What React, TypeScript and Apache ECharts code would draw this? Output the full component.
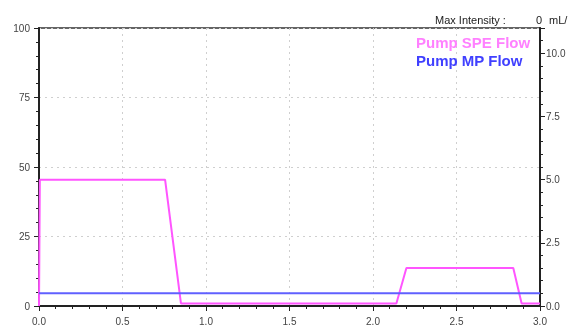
import React, { useEffect, useRef } from "react";
import * as echarts from "echarts";

const xTicks = ["0.0", "0.5", "1.0", "1.5", "2.0", "2.5", "3.0"];
const leftTicks = [0, 25, 50, 75, 100];
const rightTicks = ["0.0", "2.5", "5.0", "7.5", "10.0"];
const speTimes = [0, 0.005, 0.755, 0.85, 2.14, 2.2, 2.84, 2.89, 3.0];
const speFlow = [0, 5.0, 5.0, 0.1, 0.1, 1.5, 1.5, 0.1, 0.1];
const mpTimes = [0, 3.0];
const mpFlow = [0.5, 0.5];
const seriesNames = ["Pump SPE Flow", "Pump MP Flow"];

export default function App() {
  const ref = useRef<HTMLDivElement>(null);
  useEffect(() => {
    if (!ref.current) return;
    const chart = echarts.init(ref.current, undefined, { renderer: "svg" });
    const font = "Liberation Sans, Arial, sans-serif";
    const axisLine = { show: true, lineStyle: { color: "#222", width: 2 } };
    const split = { show: true, lineStyle: { color: "#cfcfcf", type: [2, 4] as any, width: 1 } };
    chart.setOption({
      animation: false,
      textStyle: { fontFamily: font },
      grid: { left: 39, right: 30, top: 28, bottom: 17, show: true, borderColor: "#333", borderWidth: 1.5, backgroundColor: "transparent" },
      graphic: [
        { type: "text", left: 435, top: 14, style: { text: "Max Intensity :", fontSize: 11, fill: "#222", fontFamily: font } },
        { type: "text", left: 536, top: 14, style: { text: "0", fontSize: 11, fill: "#222", fontFamily: font } },
        { type: "text", left: 549, top: 14, style: { text: "mL/", fontSize: 11, fill: "#222", fontFamily: font } },
      ],
      legend: {
        orient: "vertical",
        left: 406,
        top: 30,
        itemGap: 3,
        itemWidth: 0,
        itemHeight: 0,
        icon: "none",
        selectedMode: false,
        data: [
          { name: seriesNames[0], textStyle: { color: "#ff80ff" } },
          { name: seriesNames[1], textStyle: { color: "#4040ff" } },
        ],
        textStyle: { fontSize: 15, fontWeight: "bold", fontFamily: font },
      },
      xAxis: {
        type: "value",
        min: 0,
        max: 3,
        interval: 0.5,
        axisLine,
        axisTick: { show: true, length: 5, lineStyle: { color: "#222" } },
        minorTick: { show: true, splitNumber: 5, length: 3, lineStyle: { color: "#222" } },
        axisLabel: { color: "#444", fontSize: 10, margin: 10, formatter: (v: number) => xTicks[Math.round(v / 0.5)] ?? "" },
        splitLine: split,
      },
      yAxis: [
        {
          type: "value",
          min: 0,
          max: 100,
          interval: 25,
          position: "left",
          axisLine,
          axisTick: { show: true, length: 5, lineStyle: { color: "#222" } },
          minorTick: { show: true, splitNumber: 5, length: 3, lineStyle: { color: "#222" } },
          axisLabel: { color: "#444", fontSize: 10, margin: 9, formatter: (v: number) => String(leftTicks[Math.round(v / 25)] ?? "") },
          splitLine: split,
        },
        {
          type: "value",
          min: 0,
          max: 11,
          interval: 2.5,
          position: "right",
          axisLine,
          axisTick: { show: true, length: 5, lineStyle: { color: "#222" } },
          minorTick: { show: true, splitNumber: 5, length: 3, lineStyle: { color: "#222" } },
          axisLabel: {
            color: "#444",
            fontSize: 10,
            margin: 6,
            showMaxLabel: false,
            formatter: (v: number) => (Math.abs(v / 2.5 - Math.round(v / 2.5)) < 1e-6 ? rightTicks[Math.round(v / 2.5)] ?? "" : ""),
          },
          splitLine: { show: false },
        },
      ],
      series: [
        {
          name: seriesNames[0],
          type: "line",
          yAxisIndex: 1,
          showSymbol: false,
          data: speTimes.map((t, i) => [t, speFlow[i]]),
          lineStyle: { color: "#ff55ff", width: 2 },
          itemStyle: { color: "#ff55ff" },
        },
        {
          name: seriesNames[1],
          type: "line",
          yAxisIndex: 1,
          showSymbol: false,
          data: mpTimes.map((t, i) => [t, mpFlow[i]]),
          lineStyle: { color: "#6060ff", width: 2 },
          itemStyle: { color: "#6060ff" },
        },
      ],
    });
    return () => chart.dispose();
  }, []);
  return <div ref={ref} style={{ position: "fixed", left: 0, top: 0, width: 570, height: 326 }} />;
}
